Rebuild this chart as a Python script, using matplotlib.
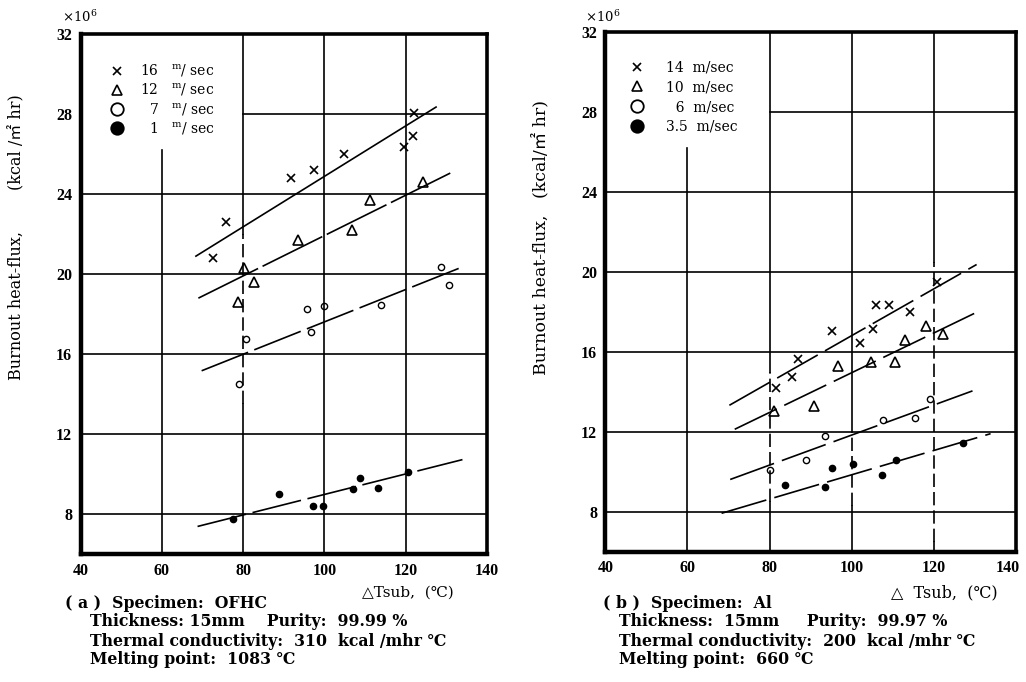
import numpy as np
import matplotlib.pyplot as plt
from matplotlib.lines import Line2D
from matplotlib.transforms import ScaledTranslation

plt.rcParams['font.family'] = ['DejaVu Serif', 'Noto Sans CJK JP']
plt.rcParams['mathtext.fontset'] = 'dejavuserif'

# (a) OFHC, velocity in m/sec
a_speeds = ['16', '12', '\u2002\u20097', '\u2002\u20091']
a_x16 = [72.7, 75.7, 91.8, 97.5, 104.8, 119.6, 121.9, 122.1]
a_y16 = [20.8, 22.6, 24.8, 25.2, 26.0, 26.35, 26.9, 28.05]
a_x12 = [78.7, 80.3, 82.7, 93.4, 106.7, 111.2, 124.3]
a_y12 = [18.6, 20.3, 19.6, 21.7, 22.2, 23.7, 24.6]
a_x7 = [79.0, 80.7, 95.8, 96.6, 100.0, 113.9, 128.8, 130.6]
a_y7 = [14.5, 16.76, 18.25, 17.1, 18.4, 18.47, 20.35, 19.44]
a_x1 = [77.5, 88.8, 97.2, 99.7, 107.0, 108.7, 113.3, 120.7]
a_y1 = [7.77, 9.0, 8.43, 8.43, 9.28, 9.83, 9.3, 10.1]
a_fit_x = [[68.4, 127.5], [69.0, 131.0], [69.8, 133.5], [68.8, 134.0]]
a_fit_y = [[20.9, 28.35], [18.8, 25.05], [15.17, 20.32], [7.39, 10.73]]

# (b) Al
b_speeds = ['14', '10', '\u2002\u20096', '3.5']
b_x14 = [81.45, 85.5, 86.9, 95.1, 102.0, 105.2, 105.8, 109.1, 114.2, 120.8]
b_y14 = [14.19, 14.74, 15.65, 17.04, 16.44, 17.12, 18.31, 18.31, 17.98, 19.48]
b_x10 = [81.0, 90.7, 96.6, 104.7, 110.6, 113.0, 118.0, 122.3]
b_y10 = [13.04, 13.27, 15.3, 15.49, 15.49, 16.57, 17.27, 16.9]
b_x6 = [80.0, 88.8, 93.5, 107.5, 115.5, 119.0]
b_y6 = [10.06, 10.56, 11.77, 12.56, 12.66, 13.62]
b_x35 = [83.8, 93.4, 95.1, 100.3, 107.3, 110.7, 127.2]
b_y35 = [9.31, 9.25, 10.2, 10.4, 9.83, 10.58, 11.41]
b_fit_x = [[70.2, 130.4], [71.5, 129.8], [70.4, 129.4], [68.3, 133.8]]
b_fit_y = [[13.32, 20.36], [12.12, 17.91], [9.61, 14.04], [7.92, 11.9]]

x_ticks = [40, 60, 80, 100, 120, 140]
y_ticks = [8, 12, 16, 20, 24, 28, 32]

a_caption = ['( a )  Specimen:  OFHC',
             'Thickness: 15mm    Purity:  99.99 %',
             'Thermal conductivity:  310  kcal /mhr \u2103',
             'Melting point:  1083 \u2103']
b_caption = ['( b )  Specimen:  Al',
             'Thickness:  15mm     Purity:  99.97 %',
             'Thermal conductivity:  200  kcal /mhr \u2103',
             'Melting point:  660 \u2103']

styles = [dict(marker='x', ms=6, mew=1.2, mfc='none'),
          dict(marker='^', ms=7, mew=1.2, mfc='none'),
          dict(marker='o', ms=4.5, mew=1.0, mfc='none'),
          dict(marker='o', ms=4.5, mew=1.0, mfc='black')]
leg_styles = [dict(marker='x', ms=6, mew=1.2, mfc='none'),
              dict(marker='^', ms=7, mew=1.2, mfc='none'),
              dict(marker='o', ms=9, mew=1.3, mfc='none'),
              dict(marker='o', ms=9, mew=1.3, mfc='black')]

fig = plt.figure(figsize=(10.26, 6.82), dpi=100)


def ymap(v):
    return (v - 6) / 26.0


def vline(ax, gx, dashed):
    # vertical grid line, dashed over the given y range
    if dashed is None:
        ax.axvline(gx, color='black', lw=1.2, zorder=1)
        return
    lo, hi = dashed
    ax.axvline(gx, ymin=0, ymax=ymap(lo), color='black', lw=1.2, zorder=1)
    ax.axvline(gx, ymin=ymap(lo), ymax=ymap(hi), color='black', lw=1.2,
               dashes=(8, 3), zorder=1)
    ax.axvline(gx, ymin=ymap(hi), ymax=1, color='black', lw=1.2, zorder=1)


def panel(rect, xs, ys, fit_x, fit_y, fit_dash, speeds, sup, dashed_grid,
          leg_at, leg_pad, leg_space):
    ax = fig.add_axes(rect)
    ax.set_xlim(40, 140)
    ax.set_ylim(6, 32)
    ax.axvline(60, ymin=0, ymax=ymap(26.2), color='black', lw=1.2, zorder=1)
    for gx in [80, 100, 120]:
        vline(ax, gx, dashed_grid.get(gx))
    for gy in [8, 12, 16, 20, 24]:
        ax.axhline(gy, color='black', lw=1.2, zorder=1)
    ax.axhline(28, xmin=0.4, xmax=1, color='black', lw=1.2, zorder=1)

    for i in range(4):
        ax.plot(xs[i], ys[i], ls='none', color='black', zorder=3, **styles[i])
        kw = dict(color='black', lw=1.2, zorder=2)
        if fit_dash[i] is not None:
            kw['dashes'] = fit_dash[i]
        ax.plot(fit_x[i], fit_y[i], **kw)

    handles = [Line2D([], [], ls='none', color='black', **s) for s in leg_styles]
    if sup:
        labels = [f'{s}   $^{{\\rm m}}$/ sec' for s in speeds]
    else:
        labels = [f'{s}  m/sec' for s in speeds]
    ax.legend(handles, labels, loc='upper left', bbox_to_anchor=leg_at,
              frameon=False, fontsize=10, handlelength=1.0,
              handletextpad=leg_pad, labelspacing=leg_space, borderpad=0)

    for side in ['left', 'bottom']:
        ax.spines[side].set_linewidth(3.2)
    for side in ['top', 'right']:
        ax.spines[side].set_linewidth(2.6)
    ax.set_xticks(x_ticks)
    ax.set_yticks(y_ticks)
    ax.tick_params(length=0, labelsize=11.5, pad=6,
                   labelfontfamily='Liberation Serif')
    for lab in ax.get_xticklabels() + ax.get_yticklabels():
        lab.set_fontweight('bold')
    return ax


ax1 = panel([0.0785, 0.1873, 0.396, 0.7628],
            [a_x16, a_x12, a_x7, a_x1], [a_y16, a_y12, a_y7, a_y1],
            a_fit_x, a_fit_y, [None, (40, 3), (30, 4), (30, 4)],
            a_speeds, True, {80: (13.5, 22.0)}, (0.055, 0.958), 1.15, 0.22)
ax2 = panel([0.590, 0.1911, 0.4003, 0.7624],
            [b_x14, b_x10, b_x6, b_x35], [b_y14, b_y10, b_y6, b_y35],
            b_fit_x, b_fit_y, [(28, 5), (28, 5), (28, 5), (28, 5)],
            b_speeds, False, {80: (8.5, 15.0), 100: (8.3, 12.0), 120: (6.5, 20.5)},
            (0.043, 0.958), 1.6, 0.42)

# last tick label of (b) sits a little inside the page edge
last = ax2.get_xticklabels()[-1]
last.set_transform(last.get_transform() + ScaledTranslation(-6 / 72, 0, fig.dpi_scale_trans))

for x0, lab in [(0.060, '\u00d710$^6$'), (0.570, '\u00d710$^6$')]:
    fig.text(x0, 0.975, lab, fontsize=9.5, va='center')

fig.text(0.016, 0.652, 'Burnout heat-flux,        (kcal /\u33a1 hr)', rotation=90,
         fontsize=11.5, va='center', ha='center')
fig.text(0.527, 0.652, 'Burnout heat-flux,   (kcal/\u33a1 hr)', rotation=90,
         fontsize=12.5, va='center', ha='center')

fig.text(0.353, 0.131, '\u25b3Tsub,  (\u2103)', fontsize=11, va='center')
fig.text(0.868, 0.131, '\u25b3  Tsub,  (\u2103)', fontsize=11.5, va='center')

for x0, x1, cap in [(0.063, 0.088, a_caption), (0.588, 0.603, b_caption)]:
    for k, line in enumerate(cap):
        fig.text(x0 if k == 0 else x1, 1 - (603 + 19 * k) / 682, line,
                 fontsize=11.3, fontweight='bold', va='center')

fig.savefig('out.png', dpi=100)
